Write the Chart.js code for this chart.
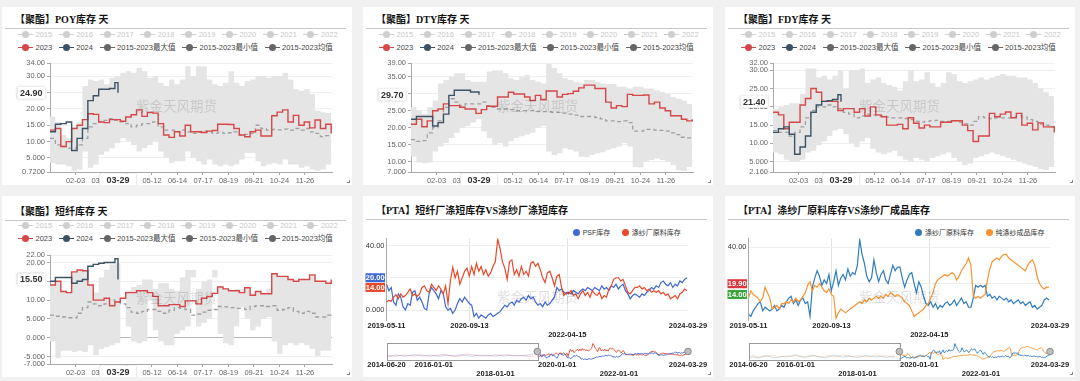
<!DOCTYPE html>
<html>
<head>
<meta charset="utf-8">
<script src="https://cdn.jsdelivr.net/npm/chart.js@4.4.1/dist/chart.umd.min.js"></script>
<style>
  html, body { margin: 0; padding: 0; }
  body { width: 1080px; height: 381px; background: #f1f1f1; position: relative; overflow: hidden;
         font-family: "Liberation Sans", "Noto Sans CJK SC", sans-serif; }
  .panel { position: absolute; width: 350px; background: #fff; }
  .title { position: absolute; left: 13px; font: bold 10px/12px "Liberation Serif", "Noto Sans CJK SC", serif; color: #111; white-space: nowrap; }
  .sep { position: absolute; left: 3px; width: 341px; height: 1px; background: #c8c8c8; }
  .legend { position: absolute; display: flex; font-size: 7.5px; line-height: 9px; white-space: nowrap; color: #444; }
  .legend.off { color: #c8c8c8; }
  .item { display: flex; align-items: center; margin-right: 6.6px; }
  .sym { position: relative; width: 15px; height: 7px; margin-right: 2.5px; }
  .sym::before { content: ""; position: absolute; left: 0; right: 0; top: 3px; height: 1px; background: var(--c); }
  .sym::after { content: ""; position: absolute; left: 4px; top: 0; width: 7px; height: 7px; border-radius: 50%; background: var(--c); }
  .dot { width: 7px; height: 7px; border-radius: 50%; background: var(--c); margin-right: 3px; }
  canvas { position: absolute; left: 0; }
  .wm { position: absolute; left: 134px; font-size: 13.5px; line-height: 16px; color: rgba(0,0,0,0.13); white-space: nowrap; pointer-events: none; z-index: 2; }
  .corner { position: absolute; right: 2px; bottom: 2px; width: 2px; height: 2px; border-right: 1px solid #888; border-bottom: 1px solid #888; }
</style>
</head>
<body>
<script>
// ---- seasonal panels (weekly values, week i starts on day i*7 of the year) ----
const seasonTicks = ['02-03', '03-07', '04-09', '05-12', '06-14', '07-17', '08-19', '09-21', '10-24', '11-26'];
const legendOff = ['2015', '2016', '2017', '2018', '2019', '2020', '2021', '2022'];
const legendOn = ['2023', '2024', '2015-2023最大值', '2015-2023最小值', '2015-2023均值'];
const lastDate2024 = '03-29';

const poyTicks = [0.72, 5, 10, 15, 20, 25, 30, 34];
const poy2023 = [13.5,14,8.5,10,14,15,16.7,18.5,18.3,16,15.8,16.7,16.7,16.2,17.5,18.2,19.7,17.7,18.9,18.7,15.5,12,11.3,13,11.7,15,13,13,12.8,13.2,13.4,15.3,15.3,15.2,14,12,11.5,13,13.5,11.7,11.7,17.9,19,19.7,16,18,15,16,14.2,16.6,14,15.3,12.5];
const poy2024 = [13,15.3,15.5,16,7.3,11,14,22.5,24,26,26,26.2,28,24.9];
const poyMax = [17.6,16,12,11,14.5,16,27,29,28.5,29,27.5,29.5,30,31,31.5,31,32.5,31.5,29.5,30,28,27,29,27.5,29,33,30,33,33,29,27.5,27,28,31.5,28,27,28.5,29,30,30,29.5,30,30,31,29,26,25.5,26,24.5,19.5,19,18.7,18.5];
const poyMin = [3.5,3,3,2.5,1,1.5,7,2,3,6,7,8,9.5,11,10,9,7,8,9,10,7,5,3.5,4,4,7,5,4,3,4.5,3,2.5,3,2.5,3,4.5,6.5,6.5,4,2.5,3,3.5,3,4.5,3,3,2,2.5,1.5,1,1.5,3,2.5];
const poyMean = [11,9,8.5,8,8,9,11,14.5,15.5,16,16.5,17,16.5,16,15.5,14.5,15,15.5,15.5,16,14.5,13.5,13.5,13,13.5,13,12.5,12.8,13.2,13,12.5,12.8,12.5,12.7,13,12,12.2,12.5,15,14,13.5,13.7,13.6,13.8,13.5,14,13.5,14,13,12.5,11.5,11.8,11.6];

const dtyTicks = [7, 10, 15, 20, 25, 30, 35, 39];
const dty2023 = [21,22.5,20.3,22,25,25.5,27,26.5,26.5,26,25.5,25.5,24.2,25.3,26.3,26.3,29,29,30.4,29.9,29.9,29,28,29.5,28.3,30.8,30.8,29,29.8,30,30.7,31.7,32.5,32.5,31.5,31.5,27.5,25.8,26.5,26.2,29.8,29.5,29.5,29.6,27,27.5,25.8,25,23.5,23.5,22.5,22,22.5];
const dty2024 = [22.5,23.3,23.3,23.3,20.5,21.5,24,29.5,31,31,31,30.5,30.5,29.7];
const dtyMax = [26,25,24,26,28,33,34,35,36,36,34,33.5,33.5,33.5,36.5,36.8,36.8,36,34.5,34,35,35.5,34,33.5,33,38.8,37.5,36,34.5,34,33.5,33,34,34,33.5,33,32.8,32.8,32,32,31.5,32,32,31.5,31.5,31,30.5,30,29,28.5,28,27,26.3];
const dtyMin = [11.5,9.8,9.6,9.8,13,14.5,15.5,17,18.5,20,20.5,21.5,22.5,19,17,15,15.5,14.5,16,17,17.5,18,18.5,20,20.5,13,12,12.5,14,13.5,13,11.5,11.3,12,12.5,12.8,13.5,14,14.5,15.5,14.5,8.5,8.3,10,10.5,11,10.5,10,9,7.5,7.3,8.5,10];
const dtyMean = [16.5,16,16.2,18.5,20,22,26,28.5,27.5,26.5,27,27,27,27.5,26.5,26,25.5,25.5,25.3,25,25,25,25,24.8,24.7,24.7,24.5,24.5,24.3,24,23.7,23.3,23.3,23.3,23,22.6,22,22,21.8,22,21.5,19,19,19.5,19.5,19.3,19.2,19,18.5,18,17.2,17,16.8];

const fdyTicks = [2.16, 5, 10, 15, 20, 25, 30, 32];
const fdy2023 = [18.5,17.8,14,15.8,15.8,20.5,22.3,25,24,21.5,21.5,21.5,19,19.5,19.5,18.5,19.5,17.5,20,17.8,17.3,15,15,15.2,14,17,15.5,14.2,15,14.5,14.5,15.8,15.8,16.2,16.2,15,13.5,10.5,12,12,18.2,17.3,18,18.6,17,18.2,15,15.5,13.7,15.6,14.5,14.5,13];
const fdy2024 = [13,14,14.5,12.5,7,9,12,18.5,20.5,21.5,21.7,22,23.3,21.4];
const fdyMax = [19.5,20,20.5,21,21,23.5,30.5,30.5,28,28.5,27.5,28.5,30,25,30,30,30.5,26.5,27.5,28,26.5,26,25.5,24.5,27,30,27,27.5,29.5,26.5,25.5,26.5,29.5,29,27,26.5,27,27.5,28,27.5,28,28.5,29,28.5,28.5,28,28,27.5,26.5,25,24,23,22];
const fdyMin = [7.5,7,5.5,5,5,5.5,7.5,8,9.5,10.5,12,13.5,14,12.5,10,9,10.5,11.5,8.5,7.5,7,7.5,8,6.5,5.5,5,6,5.5,5,6,6.5,7,7.5,6,5,4,4.5,6,6.5,7,7.5,7,6.5,6,5.5,5,4.5,4,3.5,3,2.7,3.5,5];
const fdyMean = [13.5,13,13,12,13,14.5,17,19,20,20,20.5,20,19.5,18.5,18,17,17.5,18,17.8,17.5,17.5,17.2,17,17,16.8,16.5,16,15.8,16,16.2,16.3,16,16,16.2,15.8,15.3,15,16,17.3,17,16.8,17,17,17,17.2,17.5,17.2,16.5,16,15.3,15,14.5,14];

const psfTicks = [-7, -5, 0, 5, 10, 15, 20, 22];
const psf2023 = [14,15,12.3,12,17.5,18,17.8,14,10,10,10.5,8.5,9.5,10.5,12,12,12.5,12.5,12,11,8.5,8.5,8.8,8.8,8.3,9.8,9.8,9,10.5,11,11.8,13.5,13,12.5,12.5,12,13.3,11.3,12.3,11.7,11.7,17,16.3,16.3,15.5,15,15.5,15.5,16.7,15,15,14.5,15.5];
const psf2024 = [15,16,16,16,14.5,15,15.5,19,19.5,19.8,20,20,21,15.5];
const psfMax = [14,15,12.5,12,17.5,18,17.8,14,12,16,18,19.5,19.8,18,12.5,13.5,14,15.5,15.5,13,14.5,14.5,13,12.5,16,18,18,13,15,15.5,18,13.5,13,12.5,13,13,13.3,12,12.3,12,13,17,16.3,16.3,15.5,15,15.5,15.5,16.7,15,15,14.5,15.5];
const psfMin = [-1,-5.5,-3.5,-3.5,-3.8,-3.5,-3.8,-2,-4.7,-3,-2.5,-2,-1.5,18,3,-1,-1.5,-1,10,2,-1,-2,-2,1,2,3,16,3,4,5,16,1,-1.5,-2,3,8,5,2,3,5,5.5,-1,-4.3,-2,-1.5,-2,-1.5,-2,-3,-5,-3.5,-3.5,-1];
const psfMean = [6,5.7,5.5,5.3,5.3,6.5,8,9.5,9,8.5,9,10,9.5,9,8,6.8,6.5,7,7.5,7.5,7,6.5,7.3,8,7.8,7.5,6,6.3,6.8,7.3,7.5,8.3,8.2,8,7.8,7.8,7.5,8.3,8.5,8.5,8.3,8.5,7.3,7.5,8,7,6.5,7,6.5,5.5,5.5,6,6.5];

// ---- PTA panels (one value every 14 days from mainStart) ----
const mainStart = '2019-05-11', mainEnd = '2024-03-29';
const mainTicks = ['2019-05-11', '2020-09-13', '2022-04-15', '2024-03-29'];
const zoomStart = '2014-06-20';
const zoomTicks = ['2014-06-20', '2016-01-01', '2018-01-01', '2020-01-01', '2022-01-01', '2024-03-29'];

const psfStock = [16,12,14,5,3,10,8,2, 0,4,3,11,12,6,8,5, 1,0,10,14,12,10,7,12, 10,2,0,1,-2,0,4,7,
  5,8,6,4,3,-4,-2,-5, -3,-4,-5,-3,-2,-4,-3,-2, -1,1,3,2,4,5,3,6, 5,7,8,6,9,7,8,5,
  3,4,2,5,3,4,6,8, 14,12,13,11,10,11,10,12, 11,10,12,13,12,14,13,12, 14,13,12,15,13,14,12,15,
  14,16,13,15,16,12,10,7, 9,10,9,8,10,9,11,12, 14,13,15,14,17,18,16,15, 17,14,16,15,18,17,19,20];
const yarnRawA = [5,6,5.5,8,9.5,7,10,8, 9,11,13,9,10,8.5,10,14, 15,12,11,16,14,12,15,13, 10,15,4,18,26.5,20,24,16,
  20,24,26,21,27,22,29,24, 27,22,25,21,23,27,30,44, 38,30,26,19,30,31,22,25, 21,27,22,24,21,29,30,27,
  29,25,20,17,23,24,20,15, 21,22,14,9,11,10,12,9, 10,7,10,12,9,11,8,12, 10,9,11,7,9,8,13,15,
  19,20,20,18,19,15,11,10, 12,14,14,15,13,14,12,13, 11,12,11,12,10,11,9,10, 7,8,9,7,10,11,13,12];
const yarnRawB = [3,2,5,7,9,10,5,7, 6,5,6,8,5,6,8,7, 10,12,13,9,11,8,11,12, 9,10,2,18,23,27,24,19,
  22,20,25,16,21,27,19,23, 25,22,28,24,26,25,30,44, 36,31,24,21,23,33,26,21, 25,27,22,20,25,30,27,29,
  29,23,18,22,25,26,20,15, 21,18,13,9,8,10,7,9, 6,8,7,9,10,8,9,11, 8,10,12,9,10,7,7,12,
  19,18,19,18,19,13,14,12, 13,11,13,12,11,12,10,11, 9,10,11,9,10,8,9,10, 7,8,6,7,8,11,12,11];
const yarnStock = [12,16,14,13,12,10,12,18, 15,12,6,7,8,6,9,9, 10,9,11,10,12,10,11,13, 15,19,21,16,19,18,20,18,
  16,15,17,14,13,1,4,6, 5,4,5,6,7,8,9,10, 9,11,10,12,11,12,13,12, 13,12,14,13,15,14,13,14,
  13,12,10,9,8,5,2,3, 4,5,6,8,9,12,15,20, 22,23,24,25,24,25,26,25, 22,24,27,29,31,34,30,13,
  12,13,12,13,14,22,28,32, 33,34,33,35,36,36,34,33, 32,31,30,29,28,27,30,32, 33,30,24,20,18,17,18,18];

// earlier history shown faded in the zoom strip (one value every 56 days from zoomStart)
const psfStockHist = [8,6,9,7,5,8,10,7,6,9,8,5,7,9,6,8,10,7,5,8,9,6,7,10,8,6,9,7,8,6,10,12];
const yarnRawAHist = [4,6,5,8,9,7,6,10,8,5,7,9,11,8,6,5,7,12,10,8,6,9,7,5,8,10,9,6,7,8,5,6];
const yarnRawBHist = [6,8,5,9,12,7,6,10,8,11,14,9,7,10,12,8,6,9,13,10,8,11,9,7,10,12,9,8,11,7,9,8];
const yarnStockHist = [10,12,8,11,9,13,10,8,12,9,11,10,8,13,11,9,10,12,8,11,14,10,9,12,10,8,11,13,9,12,10,11];

const RED = '#d64848', SLATE = '#3c5366', BAND = '#e5e5e5', MEAN = '#a0a0a0', GRAY = '#666';
const DAY = 86400000;

Chart.defaults.font.family = '"Liberation Sans", "Noto Sans CJK SC", sans-serif';

function dayIndex(mmdd) {
    const [m, d] = mmdd.split('-').map(Number);
    return (Date.UTC(2024, m - 1, d) - Date.UTC(2024, 0, 1)) / DAY;
}

function dnum(s) {
    const [y, m, d] = s.split('-').map(Number);
    return Date.UTC(y, m - 1, d) / DAY;
}

function weekly(vals) {
    return vals.map((v, i) => ({ x: i * 7, y: v }));
}

function thisYear(vals) {
    return vals.map((v, i) => ({ x: i < vals.length - 1 ? i * 7 : dayIndex(lastDate2024), y: v }));
}

function spaced(vals, start, step) {
    const s = dnum(start);
    return vals.map((v, i) => ({ x: s + i * step, y: v }));
}

function makePanel(left, top, height, dy, title) {
    const p = document.createElement('div');
    p.className = 'panel';
    p.style.left = left + 'px';
    p.style.top = top + 'px';
    p.style.height = height + 'px';
    p.innerHTML = `<div class="title" style="top:${7 + dy}px">${title}</div>` +
        `<div class="sep" style="top:${21 + dy}px"></div><div class="corner"></div>` +
        `<div class="wm" style="top:${92 + dy}px">紫金天风期货</div>`;
    document.body.appendChild(p);
    return p;
}

function addCanvas(p, top, h) {
    const c = document.createElement('canvas');
    c.width = 350;
    c.height = h;
    c.style.top = top + 'px';
    p.appendChild(c);
    return c;
}

function seasonalLegend(p, dy) {
    const colors = [RED, SLATE, GRAY, GRAY, GRAY];
    const row1 = document.createElement('div');
    row1.className = 'legend off';
    row1.style.left = '16px';
    row1.style.top = (22.8 + dy) + 'px';
    row1.innerHTML = legendOff.map(t => `<div class="item"><span class="sym" style="--c:#cfcfcf"></span>${t}</div>`).join('');
    const row2 = document.createElement('div');
    row2.className = 'legend';
    row2.style.left = '16px';
    row2.style.top = (35.8 + dy) + 'px';
    row2.innerHTML = legendOn.map((t, i) => `<div class="item"><span class="sym" style="--c:${colors[i]}"></span>${t}</div>`).join('');
    p.appendChild(row1);
    p.appendChild(row2);
}

// axis pointer labels (current value on y, current date on x)
const pointerPlugin = {
    id: 'pointer',
    afterDraw(chart, args, opts) {
        const { ctx, scales: { x, y } } = chart;
        ctx.save();
        ctx.font = 'bold 9px "Liberation Sans", sans-serif';
        ctx.textAlign = 'center';
        ctx.textBaseline = 'middle';
        const py = y.getPixelForValue(opts.value);
        const ty = opts.value.toFixed(2);
        const wy = ctx.measureText(ty).width + 5;
        const px = x.getPixelForValue(dayIndex(opts.date));
        const wx = ctx.measureText(opts.date).width + 13;
        ctx.shadowColor = 'rgba(0,0,0,0.25)';
        ctx.shadowBlur = 2;
        ctx.fillStyle = '#fff';
        ctx.fillRect(x.left - 5 - wy, py - 6, wy, 12);
        ctx.fillRect(px - wx / 2, y.bottom + 1.5, wx, 13);
        ctx.shadowBlur = 0;
        ctx.shadowColor = 'rgba(0,0,0,0)';
        ctx.fillStyle = '#333';
        ctx.fillText(ty, x.left - 5 - wy / 2, py + 0.5);
        ctx.fillText(opts.date, px, y.bottom + 8.5);
        ctx.restore();
    }
};

function seasonalChart(canvas, s) {
    const line = { pointRadius: 0, stepped: true, fill: false };
    return new Chart(canvas, {
        type: 'line',
        data: {
            datasets: [
                { ...line, data: weekly(s.max), fill: '+1', backgroundColor: BAND, borderWidth: 0, borderColor: 'rgba(0,0,0,0)', order: 4 },
                { ...line, data: weekly(s.min), borderWidth: 0, borderColor: 'rgba(0,0,0,0)', order: 4 },
                { ...line, data: weekly(s.mean), borderColor: MEAN, borderDash: [4, 3], borderWidth: 1.3, order: 3 },
                { ...line, data: weekly(s.y2023), borderColor: RED, borderWidth: 1.4, order: 2 },
                { ...line, data: thisYear(s.y2024), borderColor: SLATE, borderWidth: 1.4, order: 1 }
            ]
        },
        options: {
            responsive: false,
            animation: false,
            events: [],
            layout: { padding: { top: 8, right: 20, left: 0, bottom: 0 } },
            plugins: {
                legend: { display: false },
                tooltip: { enabled: false },
                pointer: { value: s.y2024[s.y2024.length - 1], date: lastDate2024 }
            },
            scales: {
                x: {
                    type: 'linear', min: 0, max: 365,
                    afterFit: sc => { sc.height = 13; },
                    afterBuildTicks: sc => { sc.ticks = seasonTicks.map(t => ({ value: dayIndex(t) })); },
                    ticks: { autoSkip: false, maxRotation: 0, padding: 1, color: '#666', font: { size: 7.5 },
                             callback: (v, i) => seasonTicks[i] },
                    grid: { drawOnChartArea: false, tickLength: 3, tickColor: '#aaa' },
                    border: { color: '#aaa' }
                },
                y: {
                    min: s.ticks[0], max: s.ticks[s.ticks.length - 1],
                    afterFit: sc => { sc.width = 48; },
                    afterBuildTicks: sc => { sc.ticks = s.ticks.map(v => ({ value: v })); },
                    ticks: { padding: 2, color: '#666', font: { size: 7.5 }, callback: v => v.toPrecision(4) },
                    grid: { color: c => (c.tick && c.tick.value === 0 ? '#b8b8b8' : '#efefef'), tickLength: 3, tickColor: '#aaa' },
                    border: { color: '#aaa' }
                }
            }
        },
        plugins: [pointerPlugin]
    });
}

// last-value markers on the y axis
const markerPlugin = {
    id: 'markers',
    afterDraw(chart, args, opts) {
        const { ctx, scales: { y } } = chart;
        ctx.save();
        ctx.font = 'bold 7.5px "Liberation Sans", sans-serif';
        ctx.textAlign = 'center';
        ctx.textBaseline = 'middle';
        opts.items.forEach(m => {
            const py = y.getPixelForValue(m.value);
            ctx.fillStyle = m.color;
            ctx.fillRect(2.5, py - 4.5, 19.5, 9);
            ctx.fillStyle = '#fff';
            ctx.fillText(m.value.toFixed(2), 12.2, py + 0.5);
        });
        ctx.restore();
    }
};

// box over the unselected part of the zoom strip, plus the two handles
const zoomPlugin = {
    id: 'zoomBox',
    afterDatasetsDraw(chart) {
        const { ctx, chartArea: a, scales: { x } } = chart;
        const x0 = x.getPixelForValue(dnum(mainStart));
        const x1 = x.getPixelForValue(dnum(mainEnd));
        const cy = (a.top + a.bottom) / 2;
        ctx.save();
        ctx.strokeStyle = '#9a9a9a';
        ctx.lineWidth = 1;
        ctx.strokeRect(Math.round(a.left) + 0.5, Math.round(a.top) + 0.5, Math.round(x0 - a.left), Math.round(a.bottom - a.top));
        [x0, x1].forEach(hx => {
            ctx.beginPath();
            ctx.arc(hx, cy, 3.3, 0, Math.PI * 2);
            ctx.fillStyle = '#bdbdbd';
            ctx.fill();
            ctx.strokeStyle = '#8a8a8a';
            ctx.stroke();
        });
        ctx.restore();
    }
};

function timeLegend(p, left, dy, items) {
    const row = document.createElement('div');
    row.className = 'legend';
    row.style.left = left + 'px';
    row.style.top = (28.8 + dy) + 'px';
    row.style.fontSize = '7px';
    row.style.color = '#333';
    row.innerHTML = items.map(([t, c]) => `<div class="item" style="margin-right:11.5px"><span class="dot" style="--c:${c}"></span>${t}</div>`).join('');
    p.appendChild(row);
}

function mainChart(canvas, s) {
    return new Chart(canvas, {
        type: 'line',
        data: {
            datasets: s.series.map((d, i) => ({
                data: spaced(d.values, mainStart, 14), borderColor: d.color, borderWidth: 1.2,
                pointRadius: 0, fill: false, order: s.series.length - i
            }))
        },
        options: {
            responsive: false,
            animation: false,
            events: [],
            layout: { padding: { top: 6, right: 25, left: 0, bottom: 0 } },
            plugins: { legend: { display: false }, tooltip: { enabled: false }, markers: { items: s.markers } },
            scales: {
                x: {
                    type: 'linear', min: dnum(mainStart), max: dnum(mainEnd),
                    afterFit: sc => { sc.height = 22; },
                    afterBuildTicks: sc => { sc.ticks = mainTicks.map(t => ({ value: dnum(t) })); },
                    ticks: { autoSkip: false, maxRotation: 0, padding: 1.5, color: '#222', font: { size: 7.5, weight: 'bold' },
                             callback: (v, i) => (i === 2 ? ['', mainTicks[i]] : mainTicks[i]) },
                    grid: { color: c => (c.index === 1 || c.index === 2 ? '#e2e2e2' : 'rgba(0,0,0,0)'), drawTicks: false },
                    border: { display: false }
                },
                y: {
                    min: s.yMin, max: s.yMax,
                    afterFit: sc => { sc.width = 23.5; },
                    afterBuildTicks: sc => { sc.ticks = s.yTicks.map(v => ({ value: v })); },
                    ticks: { padding: 2, color: '#333', font: { size: 7.5 }, callback: v => v.toPrecision(4) },
                    grid: { color: '#eeeeee', drawTicks: false },
                    border: { color: '#aaa' }
                }
            }
        },
        plugins: [markerPlugin]
    });
}

function zoomChart(canvas, s) {
    const datasets = [];
    s.series.forEach(d => {
        datasets.push({ data: spaced(d.hist, zoomStart, 56), borderColor: d.faded, borderWidth: 0.9, pointRadius: 0, fill: false });
        datasets.push({ data: spaced(d.values, mainStart, 14), borderColor: d.color, borderWidth: 0.9, pointRadius: 0, fill: false });
    });
    return new Chart(canvas, {
        type: 'line',
        data: { datasets },
        options: {
            responsive: false,
            animation: false,
            events: [],
            layout: { padding: { top: 2, right: 25, left: 23.5, bottom: 0 } },
            plugins: { legend: { display: false }, tooltip: { enabled: false } },
            scales: {
                x: {
                    type: 'linear', min: dnum(zoomStart), max: dnum(mainEnd),
                    afterFit: sc => { sc.height = 17; },
                    afterBuildTicks: sc => { sc.ticks = zoomTicks.map(t => ({ value: dnum(t) })); },
                    ticks: { autoSkip: false, maxRotation: 0, padding: 0, color: '#222', font: { size: 7.5, weight: 'bold' },
                             callback: (v, i) => (i === 2 || i === 4 ? ['', zoomTicks[i]] : zoomTicks[i]) },
                    grid: { display: false, drawTicks: false },
                    border: { display: false }
                },
                y: { display: false, min: s.yMin, max: 45.5 }
            }
        },
        plugins: [zoomPlugin]
    });
}

// ---- build the six panels ----
const seasonal = [
    { x: 2, y: 7, h: 178, dy: 0, title: '【聚酯】POY库存 天', ticks: poyTicks, y2023: poy2023, y2024: poy2024, max: poyMax, min: poyMin, mean: poyMean },
    { x: 363, y: 7, h: 178, dy: 0, title: '【聚酯】DTY库存 天', ticks: dtyTicks, y2023: dty2023, y2024: dty2024, max: dtyMax, min: dtyMin, mean: dtyMean },
    { x: 725, y: 7, h: 178, dy: 0, title: '【聚酯】FDY库存 天', ticks: fdyTicks, y2023: fdy2023, y2024: fdy2024, max: fdyMax, min: fdyMin, mean: fdyMean },
    { x: 2, y: 196, h: 181, dy: 2.5, title: '【聚酯】短纤库存 天', ticks: psfTicks, y2023: psf2023, y2024: psf2024, max: psfMax, min: psfMin, mean: psfMean }
];
seasonal.forEach(s => {
    const p = makePanel(s.x, s.y, s.h, s.dy, s.title);
    seasonalLegend(p, s.dy);
    seasonalChart(addCanvas(p, 48 + s.dy, 130), s);
});

const pta = [
    { x: 363, title: '【PTA】短纤厂涤短库存VS涤纱厂涤短库存', legendLeft: 209.7, yMin: -6.15, yMax: 44.3, yTicks: [0, 20, 40],
      series: [
          { name: 'PSF库存', values: psfStock, hist: psfStockHist, color: '#3f68d4', faded: 'rgba(63,104,212,0.3)' },
          { name: '涤纱厂原料库存', values: yarnRawA, hist: yarnRawAHist, color: '#e8492b', faded: 'rgba(232,73,43,0.3)' }
      ],
      markers: [{ value: 20.0, color: '#3f68d4' }, { value: 14.0, color: '#e8492b' }] },
    { x: 725, title: '【PTA】涤纱厂原料库存VS涤纱厂成品库存', legendLeft: 190, yMin: 0, yMax: 44.7, yTicks: [20, 40],
      series: [
          { name: '涤纱厂原料库存', values: yarnRawB, hist: yarnRawBHist, color: '#2f7dc0', faded: 'rgba(47,125,192,0.3)' },
          { name: '纯涤纱成品库存', values: yarnStock, hist: yarnStockHist, color: '#fb922e', faded: 'rgba(251,146,46,0.3)' }
      ],
      markers: [{ value: 19.9, color: '#d9363e' }, { value: 14.0, color: '#3aa33a' }] }
];
pta.forEach(s => {
    const p = makePanel(s.x, 196, 181, 1.7, s.title);
    timeLegend(p, s.legendLeft, 2.7, s.series.map(d => [d.name, d.color]));
    mainChart(addCanvas(p, 36, 110), s);
    zoomChart(addCanvas(p, 145, 36), s);
});
</script>
</body>
</html>
